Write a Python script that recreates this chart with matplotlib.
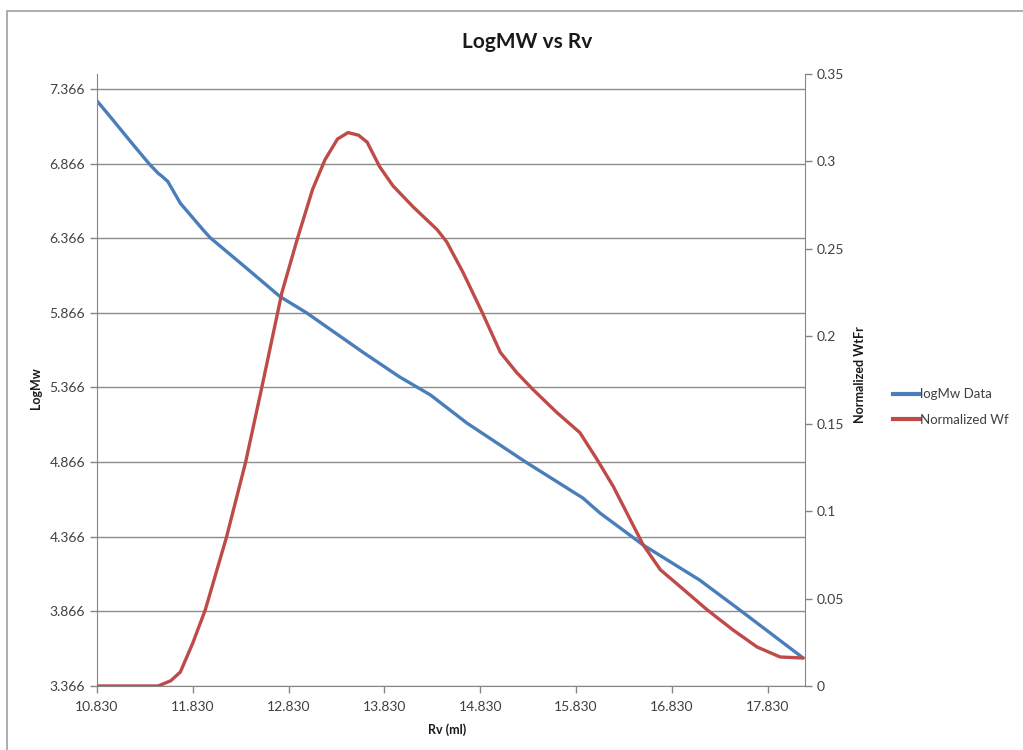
import matplotlib.pyplot as plt
from matplotlib.patches import Rectangle
from matplotlib.lines import Line2D

plt.rcParams['font.family'] = ['Lato', 'DejaVu Sans']

# logMw data
rv_mw = [10.83, 11.00, 11.20, 11.38, 11.47, 11.51, 11.57, 11.70, 11.94, 12.01,
         12.40, 12.74, 13.02, 13.61, 13.99, 14.31, 14.69, 15.32, 15.90, 16.08,
         16.53, 17.12, 17.54, 18.20]
log_mw = [7.286, 7.155, 6.998, 6.86, 6.80, 6.78, 6.745, 6.60, 6.42, 6.37,
          6.16, 5.975, 5.865, 5.60, 5.436, 5.316, 5.128, 4.86, 4.626, 4.525,
          4.311, 4.076, 3.875, 3.554]

# normalized weight fraction
rv_wf = [10.83, 11.20, 11.467, 11.60, 11.70, 11.83, 11.96, 12.18, 12.38, 12.55,
         12.76, 12.92, 13.08, 13.21, 13.34, 13.45, 13.56, 13.65, 13.78, 13.92,
         14.13, 14.38, 14.48, 14.65, 14.85, 15.04, 15.21, 15.38, 15.63, 15.87,
         16.05, 16.22, 16.53, 16.71, 16.92, 17.20, 17.47, 17.72, 17.96, 18.20]
norm_wf = [0.0, 0.0, 0.0, 0.003, 0.008, 0.0246, 0.0435, 0.0848, 0.1277, 0.1707,
           0.225, 0.2555, 0.284, 0.301, 0.3128, 0.3165, 0.315, 0.311, 0.297, 0.286,
           0.274, 0.261, 0.254, 0.2366, 0.2137, 0.1908, 0.1793, 0.1696, 0.1564, 0.1449,
           0.1295, 0.114, 0.0808, 0.0665, 0.0567, 0.0435, 0.032, 0.0223, 0.0166, 0.016]

x_ticks = [10.83 + i for i in range(8)]
left_ticks = [3.366 + 0.5 * i for i in range(9)]
right_ticks = [0.05 * i for i in range(8)]

blue = '#4a7ebb'
red = '#be4b48'
grid_c = '#8c8c8c'
txt_c = '#404040'

fig = plt.figure(figsize=(10.23, 7.5), dpi=100)
fig.patches.append(Rectangle((7 / 1023, -0.1), 1.2, 0.1 + 1 - 11 / 750,
                             transform=fig.transFigure, fill=False,
                             edgecolor='#a0a0a0', linewidth=1.2))

ax = fig.add_axes([97 / 1023, 1 - 686 / 750, (805 - 97) / 1023, (686 - 74) / 750])
ax2 = ax.twinx()

ax.plot(rv_mw, log_mw, color=blue, linewidth=2.4, solid_capstyle='round',
        solid_joinstyle='round')
ax2.plot(rv_wf, norm_wf, color=red, linewidth=2.4, solid_capstyle='round',
         solid_joinstyle='round')

ax.set_xlim(10.83, 18.22)
ax.set_ylim(3.366, 7.466)
ax2.set_ylim(0, 0.35)

ax.set_xticks(x_ticks)
ax.set_xticklabels(['%.3f' % v for v in x_ticks])
ax.set_yticks(left_ticks)
ax.set_yticklabels(['%.3f' % v for v in left_ticks])
ax2.set_yticks(right_ticks)
ax2.set_yticklabels(['0', '0.05', '0.1', '0.15', '0.2', '0.25', '0.3', '0.35'])

ax.grid(axis='y', color=grid_c, linewidth=1.0)
ax.set_axisbelow(True)

for a in (ax, ax2):
    a.spines['top'].set_visible(False)
    for side in ('left', 'right', 'bottom'):
        a.spines[side].set_color('#868686')
    a.tick_params(colors='#868686', labelcolor=txt_c, labelsize=10, length=5, width=1)
ax.spines['right'].set_visible(False)
ax2.spines['left'].set_visible(False)
ax2.spines['bottom'].set_visible(False)
ax.tick_params(axis='x', pad=6)

fig.text(527 / 1023, 1 - 42 / 750, 'LogMW vs Rv', ha='center', va='center',
         fontsize=15, fontweight='bold', color='#1a1a1a')
fig.text(447 / 1023, 1 - 730 / 750, 'Rv (ml)', ha='center', va='center',
         fontsize=9, fontweight='bold', color='#1a1a1a')
fig.text(36 / 1023, 1 - 388 / 750, 'LogMw', ha='center', va='center', rotation=90,
         fontsize=9, fontweight='bold', color='#1a1a1a')
fig.text(860 / 1023, 1 - 375 / 750, 'Normalized WtFr', ha='center', va='center',
         rotation=90, fontsize=9, fontweight='bold', color='#1a1a1a')

handles = [Line2D([], [], color=blue, linewidth=3),
           Line2D([], [], color=red, linewidth=3)]
fig.legend(handles, ['logMw Data', 'Normalized Wf'], loc='center left',
           bbox_to_anchor=(884 / 1023, 1 - 407 / 750), frameon=False,
           fontsize=9.5, handlelength=2.0, handletextpad=0.05, labelspacing=1.0,
           labelcolor=txt_c, borderpad=0.2)

fig.savefig('out.png', dpi=100)
